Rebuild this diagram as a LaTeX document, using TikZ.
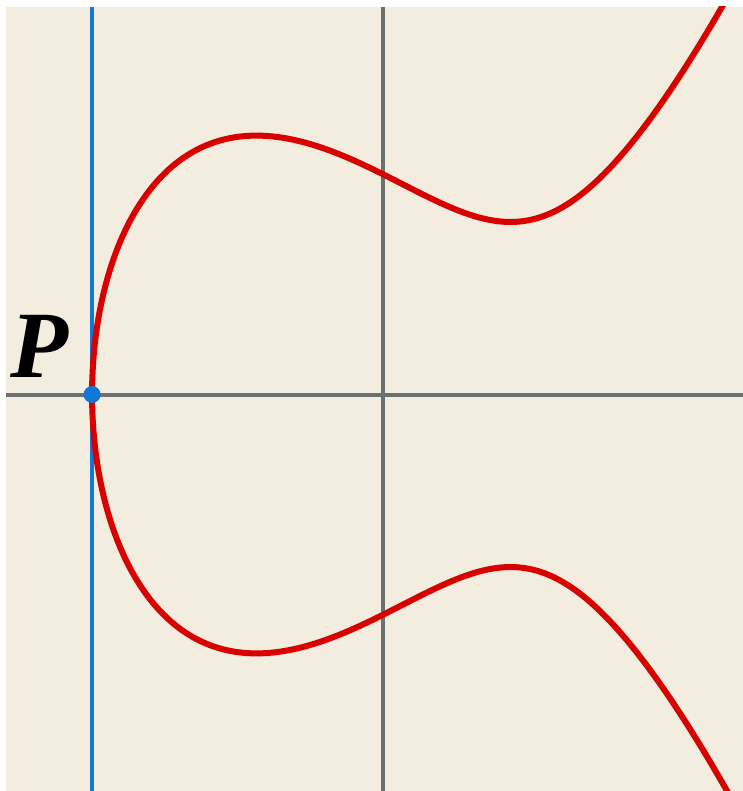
\documentclass[tikz,border=0pt]{standalone}
\usepackage{fontspec}
\newfontfamily\plabfont{Liberation Serif}
\definecolor{paper}{HTML}{F2EDDF}
\definecolor{axisgray}{HTML}{6B7073}
\definecolor{tanblue}{HTML}{1278D8}
\definecolor{curvered}{HTML}{D90000}
\tikzset{
  axisline/.style={draw=axisgray, line width=2pt},
  tangentline/.style={draw=tanblue, line width=2pt},
  curveline/.style={draw=curvered, line width=3pt, line join=round},
  ptdot/.style={circle, fill=tanblue, inner sep=0pt, minimum size=8.5pt},
  ptlabel/.style={font=\plabfont\fontsize{47.5}{47.5}\selectfont\bfseries\itshape, inner sep=0pt}
}
\begin{document}
\begin{tikzpicture}[x=110pt,y=110pt]
  \useasboundingbox (-1.7432,-1.8023) rectangle (1.6341,1.7932);
  \fill[white] (-1.7432,-1.8023) rectangle (1.6341,1.7932);
  \fill[paper] (-1.7159,-1.8023) rectangle (1.6341,1.7614);
  \coordinate (L) at (-1.7159,0);
  \coordinate (R) at (1.6341,0);
  \coordinate (T) at (0,1.7614);
  \coordinate (B) at (0,-1.8023);
  \coordinate (Pt) at (-1.324718,0);
  \coordinate (BT) at (-1.324718,1.7614);
  \coordinate (BB) at (-1.324718,-1.8023);
  \draw[axisline] (L) -- (R);
  \draw[axisline] (B) -- (T);
  \draw[tangentline] (BB) -- (BT);
  \begin{scope}
    \clip (-1.7159,-1.8023) rectangle (1.6341,1.7614);
    \draw[curveline] plot[domain=-1.75:1.75, samples=300, smooth, variable=\s]
      ({-1.324718+\s*\s}, {\s*sqrt(\s*\s*\s*\s - 3.974154*\s*\s + 4.264633)});
  \end{scope}
  \node[ptdot] (P) at (Pt) {};
  \node[ptlabel] (Plab) at (-1.5650,0.2180) {P};
\end{tikzpicture}
\end{document}
